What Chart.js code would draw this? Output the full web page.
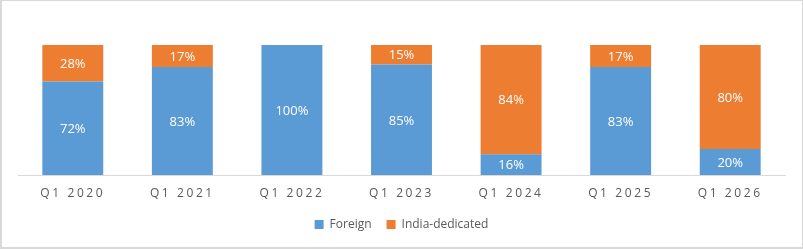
<!DOCTYPE html>
<html>
<head>
<meta charset="utf-8">
<script src="https://cdn.jsdelivr.net/npm/chart.js@4.4.1/dist/chart.umd.min.js"></script>
<style>
  html, body { margin: 0; padding: 0; background: #fff; }
  #wrap { position: relative; width: 803px; height: 249px; }
  #frame { position: absolute; left: 0; top: 0; width: 803px; height: 249px; box-sizing: border-box;
           border: 1px solid #d9d9d9; border-left-width: 2px; border-bottom-width: 2px; pointer-events: none; }
</style>
</head>
<body>
<div id="wrap">
  <canvas id="chart" width="803" height="249"></canvas>
  <div id="frame"></div>
</div>
<script>
const categories = ['Q1 2020', 'Q1 2021', 'Q1 2022', 'Q1 2023', 'Q1 2024', 'Q1 2025', 'Q1 2026'];
const foreign = [72, 83, 100, 85, 16, 83, 20];
const indiaDedicated = [28, 17, 0, 15, 84, 17, 80];

const FONT = "'Open Sans', 'DejaVu Sans', sans-serif";

// Excel-style spaced-out category labels
const spacedLabels = {
    id: 'spacedLabels',
    beforeDraw(chart) {
        const scale = chart.scales.x;
        if (scale._spaced) return;
        const orig = scale.drawLabels;
        scale.drawLabels = function (area) {
            const ctx = this.ctx;
            ctx.save();
            ctx.letterSpacing = '2.6px';
            orig.call(this, area);
            ctx.restore();
        };
        scale._spaced = true;
    }
};

// Percentage labels centered in each segment
const segmentLabels = {
    id: 'segmentLabels',
    afterDatasetsDraw(chart) {
        const ctx = chart.ctx;
        ctx.save();
        ctx.font = '13px ' + FONT;
        ctx.fillStyle = '#ffffff';
        ctx.textAlign = 'center';
        ctx.textBaseline = 'middle';
        chart.data.datasets.forEach((ds, i) => {
            const meta = chart.getDatasetMeta(i);
            meta.data.forEach((bar, j) => {
                const v = ds.data[j];
                if (!v) return;
                const p = bar.getProps(['x', 'y', 'base'], true);
                ctx.fillText(v + '%', p.x, (p.y + p.base) / 2 + 1);
            });
        });
        ctx.restore();
    }
};

new Chart(document.getElementById('chart').getContext('2d'), {
    type: 'bar',
    data: {
        labels: categories,
        datasets: [
            {
                label: 'Foreign',
                data: foreign,
                backgroundColor: '#5B9BD5',
                borderWidth: 0
            },
            {
                label: 'India-dedicated',
                data: indiaDedicated,
                backgroundColor: '#ED7D31',
                borderWidth: 0
            }
        ]
    },
    options: {
        responsive: false,
        animation: false,
        layout: { padding: { top: 45, left: 18, right: 18, bottom: 8.5 } },
        datasets: {
            bar: { categoryPercentage: 1.0, barPercentage: 0.556 }
        },
        scales: {
            x: {
                stacked: true,
                grid: { display: false },
                border: { display: true, color: '#d9d9d9', width: 1 },
                ticks: {
                    color: '#595959',
                    font: { family: FONT, size: 12 },
                    padding: 3,
                    maxRotation: 0
                }
            },
            y: {
                stacked: true,
                display: false,
                min: 0,
                max: 100
            }
        },
        plugins: {
            legend: {
                position: 'bottom',
                labels: {
                    color: '#595959',
                    font: { family: FONT, size: 12 },
                    boxWidth: 9,
                    boxHeight: 9,
                    padding: 15
                }
            },
            tooltip: { enabled: false }
        }
    },
    plugins: [spacedLabels, segmentLabels]
});
</script>
</body>
</html>
